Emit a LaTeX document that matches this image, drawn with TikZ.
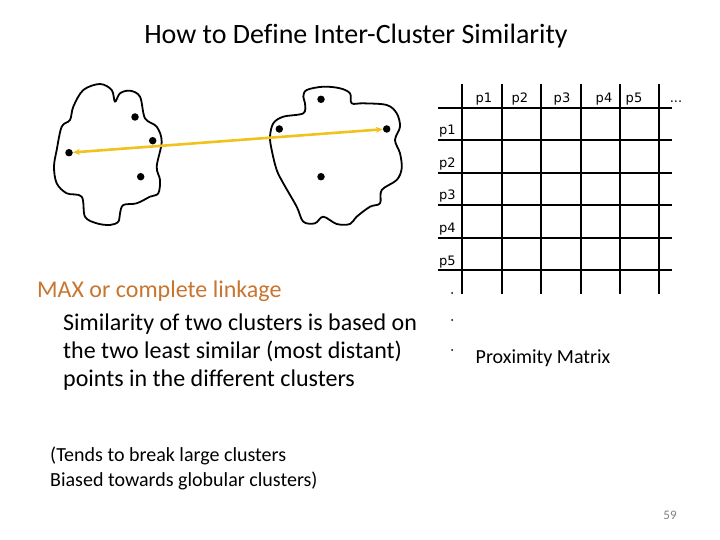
\documentclass[tikz,border=0pt]{standalone}
\usepackage{fontspec}
\setmainfont[RawFeature={-liga;-clig}]{Carlito}
\newfontfamily\lblfont{DejaVu Sans}
\usetikzlibrary{arrows.meta}
\definecolor{maxorange}{HTML}{C8752F}
\definecolor{arrowgold}{HTML}{F2C21C}
\tikzset{
  gridline/.style={line width=2pt, black},
  cloudline/.style={line width=1.8pt, black, line join=round},
  pt/.style={circle, fill=black, inner sep=0pt, minimum size=7.5pt},
  lbl/.style={font=\lblfont\fontsize{13}{15}\selectfont, inner sep=0pt},
  body/.style={font=\fontsize{24}{28}\selectfont, inner sep=0pt, align=left},
}
\begin{document}
\begin{tikzpicture}[x=1pt,y=-1pt]
\useasboundingbox (0,0) rectangle (720,540);
% title
\node[font=\fontsize{28}{32}\selectfont, inner sep=0pt, anchor=base] (title) at (356,44) {How to Define Inter-Cluster Similarity};
% left cloud
\draw[cloudline] plot[smooth cycle, tension=0.55] coordinates {
(83.3,90) (100,84) (111.7,90) (115,101.7) (120,93.3) (130,90.7) (140,96.7) (145,118.3)
(156.7,126.7) (161.7,141.7) (156.7,166.7) (160,180) (158.3,193.3) (150,196.7) (136.7,203.3)
(123.3,205) (120,213.3) (118.3,221.7) (110,225) (96.7,223.3) (85,216.7) (81.7,196.7)
(66.7,193.3) (56.7,183.3) (54,166.7) (56.7,150) (61.7,126.7) (70,120) (73.3,106.7)};
% right cloud
\draw[cloudline] plot[smooth cycle, tension=0.55] coordinates {
(303.3,96.7) (306.7,90) (323.3,86.7) (340,88.3) (350,93.3) (351.7,103.3) (363.3,103.3)
(386.7,105) (396.7,113.3) (400,126.7) (395,140) (400,153.3) (401.7,168.3) (396.7,180)
(381.7,190) (380,203.3) (370,206.7) (356.7,216.7) (350,224) (336.7,224) (323.3,216.7)
(315,223.3) (303.3,221.7) (296.7,206.7) (283.3,183.3) (276.7,170) (271.7,150) (270,136.7)
(273.3,123.3) (283.3,116.7) (303.3,113.3) (305,103.3)};
% points
\node[pt] (a1) at (135,117) {};
\node[pt] (a2) at (152.7,140.7) {};
\node[pt] (a3) at (69,152.7) {};
\node[pt] (a4) at (140.7,176.7) {};
\node[pt] (b1) at (321,99.3) {};
\node[pt] (b2) at (279.3,129) {};
\node[pt] (b3) at (386.7,129) {};
\node[pt] (b4) at (321,176.7) {};
\draw[arrowgold, line width=2.6pt, {Stealth[length=7pt,width=6pt]}-{Stealth[length=7pt,width=6pt]}] (a3) -- (b3);
% grid
\foreach \x in {461.7,501.7,540.7,581,620,659.3} \draw[gridline] (\x,84) -- (\x,294);
\foreach \y in {107.7,140,172.7,205,237.7,270} \draw[gridline] (438,\y) -- (672,\y);
% column labels
\node[lbl, anchor=base] (c1) at (484,103) {p1};
\node[lbl, anchor=base] (c2) at (520,103) {p2};
\node[lbl, anchor=base] (c3) at (562,103) {p3};
\node[lbl, anchor=base] (c4) at (604,103) {p4};
\node[lbl, anchor=base] (c5) at (634,103) {p5};
\node[lbl, anchor=base] (c6) at (676,103) {...};
% row labels
\node[lbl, anchor=base west] (r1) at (439,135) {p1};
\node[lbl, anchor=base west] (r2) at (439,167.5) {p2};
\node[lbl, anchor=base west] (r3) at (439,200) {p3};
\node[lbl, anchor=base west] (r4) at (439,232.5) {p4};
\node[lbl, anchor=base west] (r5) at (439,265) {p5};
\node[circle, fill=black, inner sep=0pt, minimum size=2pt] (d1) at (452,293) {};
\node[circle, fill=black, inner sep=0pt, minimum size=2pt] (d2) at (452,320) {};
\node[circle, fill=black, inner sep=0pt, minimum size=2pt] (d3) at (452,350) {};
\node[font=\fontsize{20}{24}\selectfont, inner sep=0pt] (pm) at (543,358) {Proximity Matrix};
% texts
\node[body, text=maxorange, anchor=base west] (max) at (37,297) {MAX or complete linkage};
\node[body, anchor=base west] (desc) at (63,386) {Similarity of two clusters is based on\\the two least similar (most distant)\\points in the different clusters};
\node[font=\fontsize{20}{24.5}\selectfont, inner sep=0pt, align=left, anchor=base west] (note) at (50,486) {(Tends to break large clusters\\Biased towards globular clusters)};
\node[font=\fontsize{13}{15}\selectfont, text=gray, inner sep=0pt] (pg) at (670,515) {59};
\end{tikzpicture}
\end{document}
